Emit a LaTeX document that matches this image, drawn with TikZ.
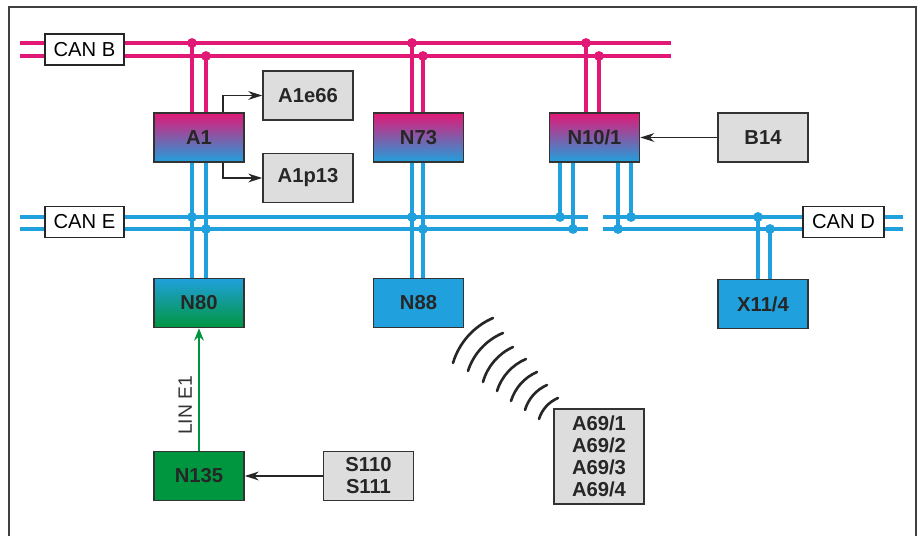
\documentclass[tikz,border=0pt]{standalone}
\usepackage{fontspec}
\setmainfont{Liberation Sans}
\usepackage{xcolor}
\usetikzlibrary{arrows.meta, calc, positioning}

\definecolor{canpink}{RGB}{226,24,118}
\definecolor{canblue}{RGB}{32,160,220}
\definecolor{lingreen}{RGB}{0,150,64}
\definecolor{boxgray}{RGB}{221,221,221}

\tikzset{
    ecu/.style={draw=black!80, line width=0.9pt, minimum width=1.8cm, minimum height=0.98cm,
        inner sep=0pt, align=center, text=black!85, font=\bfseries\fontsize{11.5}{12.5}\selectfont},
    sensor/.style={ecu, fill=boxgray},
    busname/.style={draw=black!85, fill=white, line width=0.9pt, minimum width=1.58cm,
        minimum height=0.62cm, inner sep=0pt, font=\fontsize{11.5}{13}\selectfont},
    pinkwire/.style={canpink, line width=2.1pt},
    bluewire/.style={canblue, line width=2.1pt},
    sigarrow/.style={black!85, line width=1pt, -{Stealth[length=8pt, width=5pt]}},
    wave/.style={black!85, line width=1.5pt, line cap=round},
}

\begin{document}
\begin{tikzpicture}[>=Stealth, x=0.02cm, y=-0.02cm]
    \useasboundingbox (0,0) rectangle (921,536);

    % Rahmen
    \draw[line width=0.8pt, black!75] (9,536) -- (9,7) -- (916,7) -- (916,536);

    % Busleitungen
    \draw[pinkwire] (20,43) -- (671,43);
    \draw[pinkwire] (20,56) -- (671,56);
    \draw[bluewire] (20,217) -- (588,217);
    \draw[bluewire] (20,229) -- (588,229);
    \draw[bluewire] (603,217) -- (903,217);
    \draw[bluewire] (603,229) -- (903,229);

    % Busbezeichnungen
    \node[busname] (canB) at (84.5,49.5) {CAN B};
    \node[busname] (canE) at (84.5,222) {CAN E};
    \node[busname, minimum width=1.62cm] (canD) at (843.5,222) {CAN D};

    % Steuergeraete
    \node[ecu, top color=canpink, bottom color=canblue] (A1) at (199,137.5) {A1};
    \node[ecu, top color=canpink, bottom color=canblue] (N73) at (418.5,137.5) {N73};
    \node[ecu, top color=canpink, bottom color=canblue] (N101) at (594.5,137.5) {N10/1};
    \node[ecu, top color=canblue, bottom color=lingreen] (N80) at (199,303) {N80};
    \node[ecu, fill=canblue] (N88) at (418.5,303) {N88};
    \node[ecu, fill=canblue] (X114) at (763,304) {X11/4};
    \node[ecu, fill=lingreen] (N135) at (199,476) {N135};

    % Sensoren und Aktoren
    \node[sensor] (A1e66) at (308,95.5) {A1e66};
    \node[sensor] (A1p13) at (308,178) {A1p13};
    \node[sensor] (B14) at (763,137.5) {B14};
    \node[sensor] (S110) at (368.5,476) {S110\\S111};
    \node[sensor, minimum height=1.9cm] (A69) at (599,456.5) {A69/1\\A69/2\\A69/3\\A69/4};

    % Abgriffe CAN B
    \foreach \n/\x/\y in {A1/192/43, A1/206/56, N73/412/43, N73/423/56, N101/586/43, N101/599/56} {
        \draw[pinkwire] (\x,0 |- \n.north) -- (\x,\y);
        \fill[canpink] (\x,\y) circle (2.8pt);
    }

    % Abgriffe CAN E / CAN D
    \foreach \n/\m/\x/\y in {A1/N80/192/217, A1/N80/206/229, N73/N88/412/217, N73/N88/423/229} {
        \draw[bluewire] (\x,0 |- \n.south) -- (\x,0 |- \m.north);
        \fill[canblue] (\x,\y) circle (2.8pt);
    }
    \foreach \x/\y in {560/217, 573/229, 618/229, 631/217} {
        \draw[bluewire] (\x,0 |- N101.south) -- (\x,\y);
        \fill[canblue] (\x,\y) circle (2.8pt);
    }
    \foreach \x/\y in {758/217, 770/229} {
        \draw[bluewire] (\x,\y) -- (\x,0 |- X114.north);
        \fill[canblue] (\x,\y) circle (2.8pt);
    }

    % Signale
    \draw[sigarrow] (223,0 |- A1.north) |- (A1e66.west);
    \draw[sigarrow] (223,0 |- A1.south) |- (A1p13.west);
    \draw[sigarrow] (B14.west) -- (N101.east);
    \draw[sigarrow] (S110.west) -- (N135.east);
    \draw[lingreen, line width=1.4pt, -{Stealth[length=7pt, width=5.5pt]}] (N135.north) -- (N80.south)
        node[pos=0.37, sloped, above, black!80, font=\fontsize{11}{13}\selectfont] {LIN E1};

    % Funkwellen
    \draw[wave] (453,363) .. controls (459.0,342.8) and (473.7,326.4) .. (493,318);
    \draw[wave] (468,371) .. controls (473.5,353.8) and (486.3,339.9) .. (503,333);
    \draw[wave] (483,382) .. controls (487.3,366.5) and (498.3,353.7) .. (513,347);
    \draw[wave] (497,391) .. controls (501.5,376.6) and (512.1,364.9) .. (526,359);
    \draw[wave] (511,401) .. controls (515.0,388.0) and (524.5,377.4) .. (537,372);
    \draw[wave] (525,410) .. controls (528.3,398.8) and (536.3,389.7) .. (547,385);
    \draw[wave] (539,419) .. controls (541.9,409.5) and (548.9,401.9) .. (558,398);
\end{tikzpicture}
\end{document}
